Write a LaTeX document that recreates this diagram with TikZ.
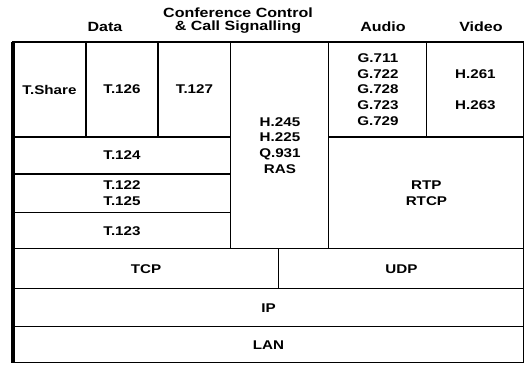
\documentclass[tikz,border=0pt]{standalone}
\usepackage{fontspec}
\setmainfont{Liberation Sans}[FakeStretch=1.2]
\usepackage{tikz}
\usetikzlibrary{
  positioning
}
\definecolor{LayerInk}{RGB}{0,0,0}
\tikzset{
  cell/.style={draw=LayerInk,line width=0.6pt,inner sep=0pt,outer sep=0pt,align=center,font=\fontsize{7.2}{9}\selectfont\bfseries},
  colhead/.style={inner sep=0pt,align=center,font=\fontsize{7.6}{7.4}\selectfont\bfseries},
  leftrule/.style={draw=LayerInk,line width=2pt},
  toprule/.style={draw=LayerInk,line width=1.1pt}
}
\begin{document}
\begin{tikzpicture}[x=0.02cm,y=-0.02cm]
\useasboundingbox (0,0) rectangle (526,365);
\node[colhead] (hdata) at (105,27) {Data};
\node[colhead] (hconf) at (238,21) {Conference Control\\\& Call Signalling};
\node[colhead] (haudio) at (383,27) {Audio};
\node[colhead] (hvideo) at (481,27) {Video};
\node[cell, anchor=north west, minimum width=1.46cm, minimum height=1.9cm] (tshare) at (13,42) {T.Share};
\node[cell, right=0pt of tshare, minimum width=1.44cm, minimum height=1.9cm] (t126) {T.126};
\node[cell, right=0pt of t126, minimum width=1.46cm, minimum height=1.9cm] (t127) {T.127};
\node[cell, right=0pt of t127.north east, anchor=north west, minimum width=1.96cm, minimum height=4.14cm] (h245) {H.245\\H.225\\Q.931\\RAS};
\node[cell, right=0pt of h245.north east, anchor=north west, minimum width=1.96cm, minimum height=1.9cm] (audio) {G.711\\G.722\\G.728\\G.723\\G.729};
\node[cell, right=0pt of audio, minimum width=1.94cm, minimum height=1.9cm] (video) {H.261\\[9pt]H.263};
\node[cell, below=0pt of tshare.south west, anchor=north west, minimum width=4.36cm, minimum height=0.74cm] (t124) {T.124};
\node[cell, below=0pt of t124, minimum width=4.36cm, minimum height=0.78cm] (t122) {T.122\\T.125};
\node[cell, below=0pt of t122, minimum width=4.36cm, minimum height=0.72cm] (t123) {T.123};
\node[cell, below=0pt of audio.south west, anchor=north west, minimum width=3.9cm, minimum height=2.24cm] (rtp) {RTP\\RTCP};
\node[cell, below=0pt of t123.south west, anchor=north west, minimum width=5.32cm, minimum height=0.8cm] (tcp) {TCP};
\node[cell, right=0pt of tcp, minimum width=4.9cm, minimum height=0.8cm] (udp) {UDP};
\node[cell, below=0pt of tcp.south west, anchor=north west, minimum width=10.22cm, minimum height=0.76cm] (ip) {IP};
\node[cell, below=0pt of ip, minimum width=10.22cm, minimum height=0.72cm] (lan) {LAN};
\draw[toprule] (tshare.north west) -- (video.north east);
\draw[leftrule] (tshare.north west) -- (lan.south west);
\end{tikzpicture}
\end{document}
